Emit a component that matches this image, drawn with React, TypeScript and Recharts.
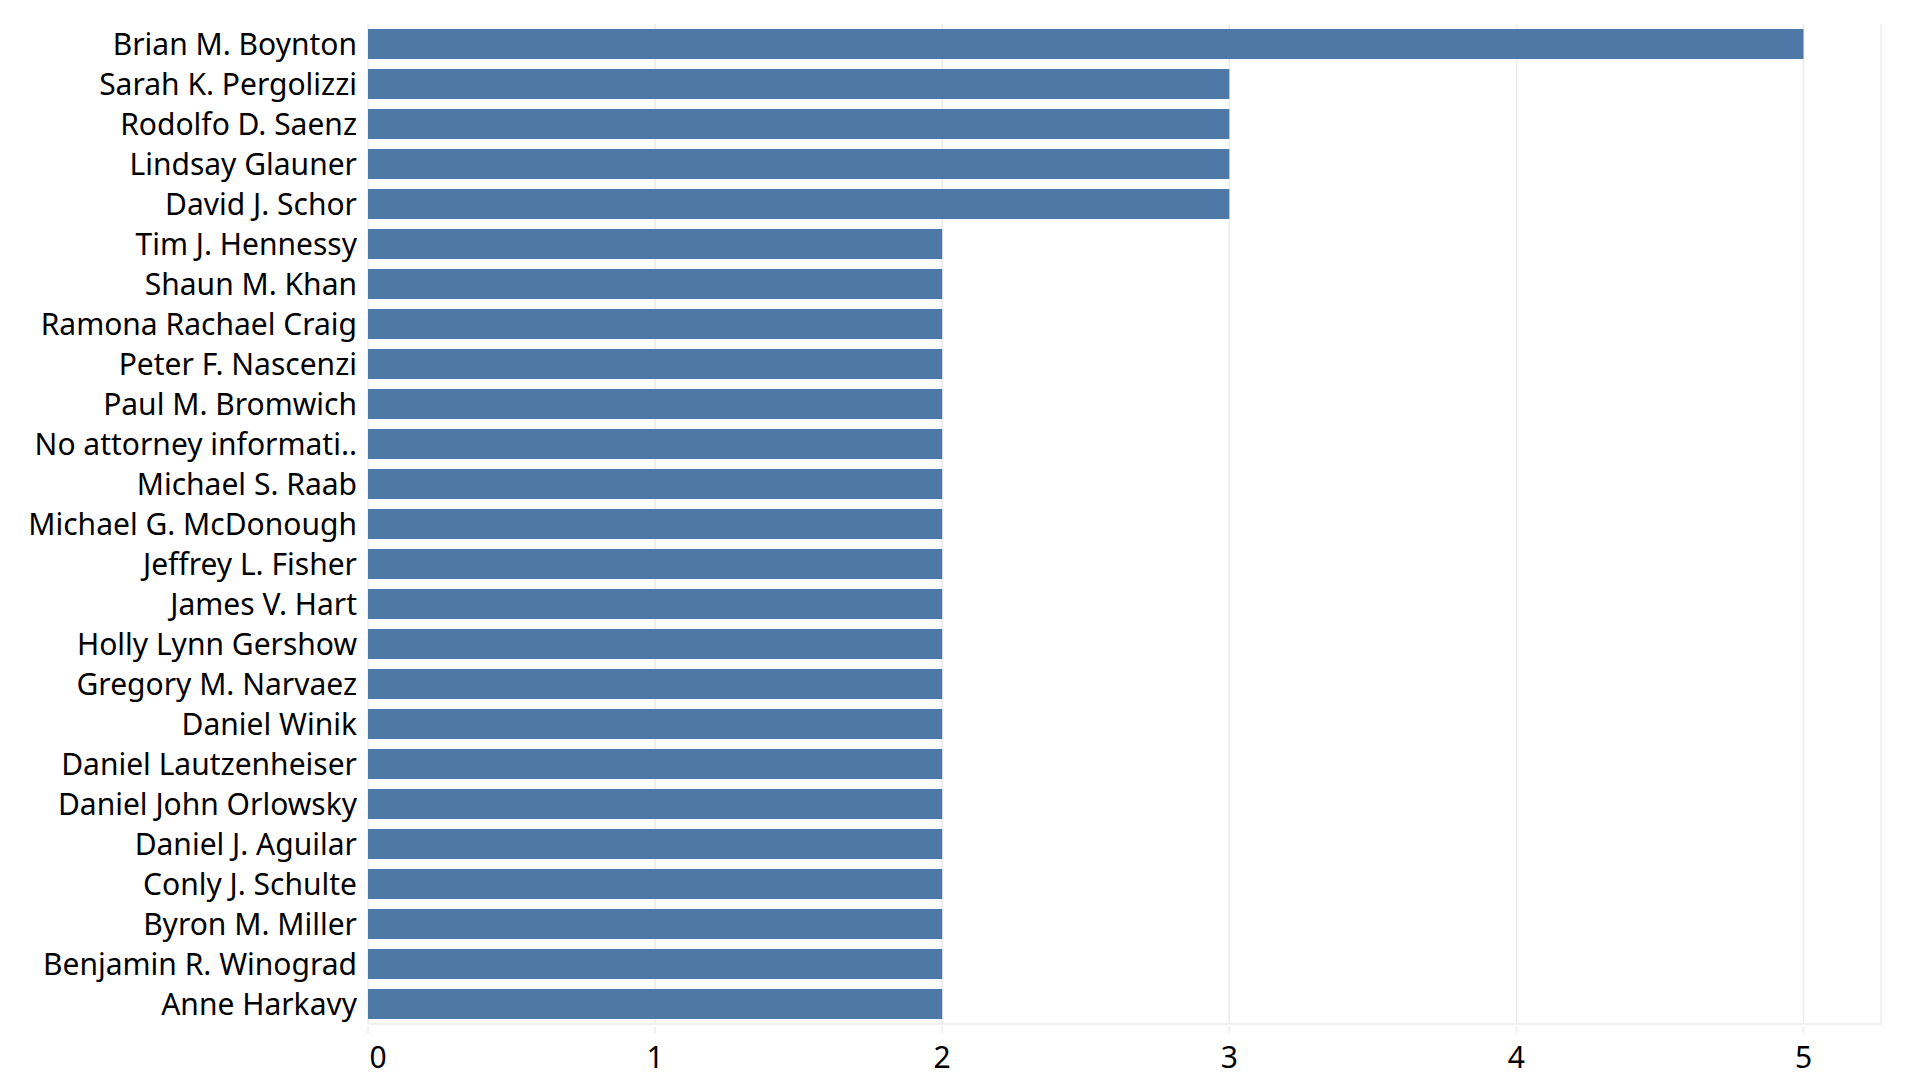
import { BarChart, Bar, XAxis, YAxis, CartesianGrid } from "recharts";

const attorneys = [
  "Brian M. Boynton",
  "Sarah K. Pergolizzi",
  "Rodolfo D. Saenz",
  "Lindsay Glauner",
  "David J. Schor",
  "Tim J. Hennessy",
  "Shaun M. Khan",
  "Ramona Rachael Craig",
  "Peter F. Nascenzi",
  "Paul M. Bromwich",
  "No attorney informati..",
  "Michael S. Raab",
  "Michael G. McDonough",
  "Jeffrey L. Fisher",
  "James V. Hart",
  "Holly Lynn Gershow",
  "Gregory M. Narvaez",
  "Daniel Winik",
  "Daniel Lautzenheiser",
  "Daniel John Orlowsky",
  "Daniel J. Aguilar",
  "Conly J. Schulte",
  "Byron M. Miller",
  "Benjamin R. Winograd",
  "Anne Harkavy",
];

const caseCounts = [5, 3, 3, 3, 3, 2, 2, 2, 2, 2, 2, 2, 2, 2, 2, 2, 2, 2, 2, 2, 2, 2, 2, 2, 2];

const xTicks = [0, 1, 2, 3, 4, 5];

const FONT = "'Noto Sans', sans-serif";
const GRID = "#ececec";

const data = attorneys.map((name, i) => ({ name, count: caseCounts[i] }));

const NameTick = (props: any) => {
  const { x, y, payload } = props;
  return (
    <text x={x} y={y} dy={11} textAnchor="end" fill="#000" fontSize={30} fontFamily={FONT}>
      {payload.value}
    </text>
  );
};

const ValueTick = (props: any) => {
  const { x, y, payload } = props;
  const shift = payload.value === 0 ? 10 : 0;
  return (
    <g>
      <line x1={x} x2={x} y1={y + 3} y2={y + 9} stroke={GRID} strokeWidth={1.5} />
      <text x={x + shift} y={y + 44} textAnchor="middle" fill="#000" fontSize={30} fontFamily={FONT}>
        {payload.value}
      </text>
    </g>
  );
};

export default function App() {
  return (
    <div style={{ position: "absolute", left: 0, top: 0, background: "#fff" }}>
      <BarChart
        width={1915}
        height={1081}
        data={data}
        layout="vertical"
        barSize={30}
        margin={{ top: 24, right: 34, bottom: 0, left: 0 }}
      >
        <CartesianGrid horizontal={false} stroke={GRID} strokeWidth={1.5} />
        <XAxis
          type="number"
          domain={[0, 5.27]}
          ticks={xTicks}
          height={57}
          tickSize={0}
          tickMargin={0}
          axisLine={{ stroke: GRID, strokeWidth: 1.5 }}
          tickLine={false}
          tick={<ValueTick />}
          allowDataOverflow
        />
        <YAxis
          type="category"
          dataKey="name"
          width={368}
          interval={0}
          tickSize={0}
          tickMargin={11}
          axisLine={false}
          tickLine={false}
          tick={<NameTick />}
        />
        <Bar dataKey="count" fill="#4e79a7" isAnimationActive={false} />
      </BarChart>
    </div>
  );
}
